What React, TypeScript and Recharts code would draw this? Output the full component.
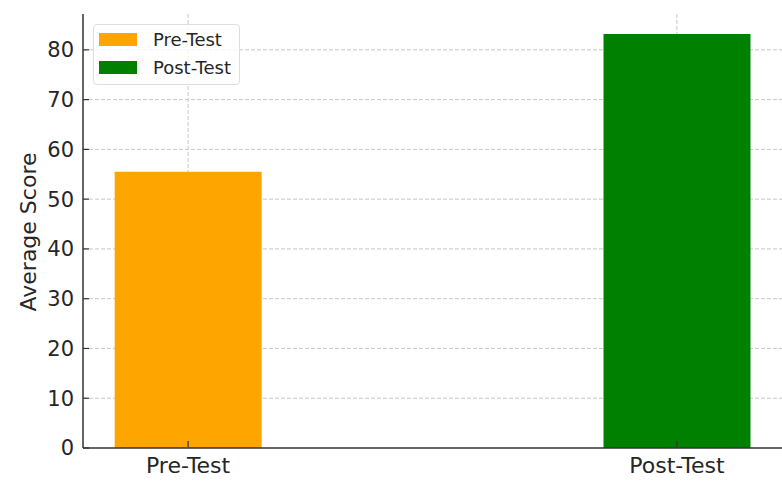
import React from 'react';
import { BarChart, Bar, XAxis, YAxis, CartesianGrid } from 'recharts';

const categories = ['Pre-Test', 'Post-Test'];
const preValues = [55.5, null];
const postValues = [null, 83.2];
const yTicks = [0, 10, 20, 30, 40, 50, 60, 70, 80];
const seriesNames = ['Pre-Test', 'Post-Test'];
const seriesColors = ['#FFA500', '#008000'];

const data = categories.map((c, i) => ({ x: i, name: c, pre: preValues[i], post: postValues[i] }));

const FONT = '"DejaVu Sans", sans-serif';
const TEXT = '#262626';

const YTick = (props: any) => {
  const { x, y, payload } = props;
  return (
    <g>
      <line x1={x + 9} x2={x + 15} y1={y} y2={y} stroke="#333" strokeWidth={1.2} />
      <text x={x} y={y} dy="0.355em" textAnchor="end" fontSize={21} fontFamily={FONT} fill={TEXT}>
        {payload.value}
      </text>
    </g>
  );
};

const XTick = (props: any) => {
  const { x, y, payload } = props;
  return (
    <g>
      <line x1={x} x2={x} y1={y - 10} y2={y - 16} stroke="#333" strokeWidth={1.2} />
      <text x={x} y={y} dy="0.71em" textAnchor="middle" fontSize={22} fontFamily={FONT} fill={TEXT}>
        {categories[payload.value]}
      </text>
    </g>
  );
};

const YLabel = (props: any) => {
  const { viewBox } = props;
  const cy = viewBox.y + viewBox.height / 2 + 1;
  return (
    <text
      x={28}
      y={cy}
      transform={`rotate(-90, 28, ${cy})`}
      textAnchor="middle"
      dominantBaseline="central"
      fontSize={22}
      fontFamily={FONT}
      fill={TEXT}
    >
      Average Score
    </text>
  );
};

export default function App() {
  return (
    <div style={{ position: 'absolute', left: 0, top: 0, width: 782, height: 482, background: '#fff' }}>
      <BarChart width={782} height={482} data={data} margin={{ top: 14, right: 0, bottom: 0, left: 0 }}>
        <XAxis
          dataKey="x"
          type="number"
          domain={[-0.215, 1.215]}
          ticks={[0, 1]}
          tick={<XTick />}
          tickLine={false}
          tickSize={0}
          tickMargin={9}
          axisLine={{ stroke: '#333', strokeWidth: 1.5 }}
          allowDataOverflow
          height={34}
        />
        <YAxis
          type="number"
          domain={[0, 87.2]}
          ticks={yTicks}
          tick={<YTick />}
          tickLine={false}
          tickSize={0}
          tickMargin={9}
          axisLine={{ stroke: '#333', strokeWidth: 1.5 }}
          width={83}
          allowDataOverflow
          label={<YLabel />}
        />
        <Bar dataKey="pre" name={seriesNames[0]} stackId="a" fill={seriesColors[0]} barSize={147} isAnimationActive={false} />
        <Bar dataKey="post" name={seriesNames[1]} stackId="a" fill={seriesColors[1]} barSize={147} isAnimationActive={false} />
        <CartesianGrid
          stroke="#c8c8c8"
          strokeDasharray="4 2"
          strokeWidth={1}
          verticalValues={[0, 1]}
          horizontalValues={yTicks.slice(1)}
        />
      </BarChart>
      <div
        style={{
          position: 'absolute',
          left: 93,
          top: 24,
          width: 145,
          height: 59,
          border: '1px solid #dddddd',
          borderRadius: 4,
          background: 'rgba(255,255,255,0.8)',
          boxSizing: 'content-box',
        }}
      >
        {seriesNames.map((n, i) => (
          <div key={n} style={{ position: 'absolute', left: 5, top: 0 + i * 28, height: 28, display: 'flex', alignItems: 'center' }}>
            <span style={{ display: 'inline-block', width: 38, height: 13, background: seriesColors[i], marginRight: 16 }} />
            <span style={{ fontFamily: FONT, fontSize: 18, color: TEXT, whiteSpace: 'nowrap' }}>{n}</span>
          </div>
        ))}
      </div>
    </div>
  );
}
